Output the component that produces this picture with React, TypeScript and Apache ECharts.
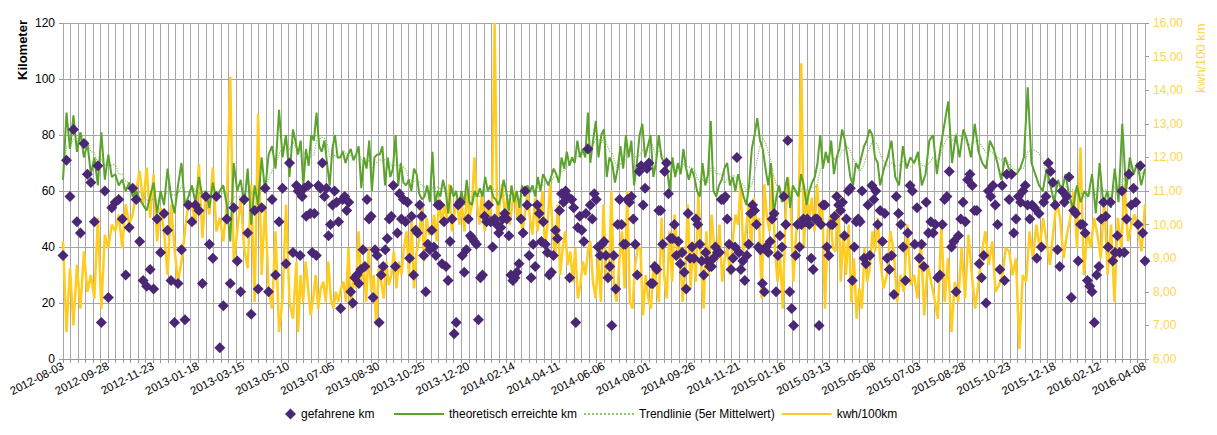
import React, { useEffect, useRef } from "react";
import * as echarts from "echarts";

// Day ranges (days since 2012-08-03) covered by each stretch of readings
const segmentDays = [
  [0, 290],
  [292, 652],
  [655, 1012],
  [1015, 1344],
];

// gefahrene km
const km1 = [37,71,58,82,49,45,77,66,63,49,69,13,60,22,54,56,57,50,30,47,61,57,42,28,26,32,25,50,38,52,46,28,13,27,39,14,55,49,55,53,27,58,41,36,58,4,19,50,27,54,35,24,57,45,16,53,25,54,61,24,57,30,49,61,34,70,38,62];
const km2 = [60,37,58,61,51,62,52,38,52,37,62,61,70,58,61,44,48,55,60,56,49,18,57,58,53,56,24,20,29,30,27,32,39,33,57,50,51,22,39,37,13,30,33,39,43,50,51,62,33,45,59,50,57,49,56,36,51,30,46,45,55,51,37,24,41,39,46,40,37,55,55,34,49,33,28,42,50,9,13,55,56,37,31,39,50,44,43,42,41,14,29,30,51,49,55,49,40,50,48,45,47,50,52,50,44,30,28,29,31,34,50,45,60,55,37,29,41,33,55,52,42,49,41,38,30,31,37,46,43,53,59,56,60,58,29,57,54,13,47,51,46,42,52,75];
const km3 = [55,50,59,57,40,37,41,42,37,29,33,12,37,25,48,57,48,41,41,57,56,58,50,41,30,67,69,55,61,68,70,27,27,33,32,53,53,41,67,70,59,43,43,48,37,42,34,38,31,25,52,36,40,36,50,48,41,35,30,38,35,33,33,36,40,38,38,57,57,58,50,41,32,36,40,72,38,32,35,28,37,41,52,55,53,48,40,39,27,24,40,38,42,50,52,24,37,44,40,58,48,78,24,18,12,37,48,40,48,50,49,50,48,36,32,50,50,12,48,55,55,40,37,48,48,51,58,55,53,56,44,50,60,61,28,40,49,50,49,60,36,34,55,37,62,57,60,48];
const km4 = [53,42,52,36,32,37,23,58,52,48,40,28,45,62,60,41,54,36,41,33,56,45,49,45,48,29,30,48,57,58,67,40,42,24,44,50,56,49,64,66,62,53,53,34,29,37,20,60,58,62,55,48,32,62,28,66,57,66,45,50,58,56,60,62,55,50,55,54,36,52,40,56,58,70,67,63,55,39,33,60,56,58,65,22,53,52,35,48,48,45,28,26,24,13,30,33,50,56,51,40,56,35,38,44,38,60,38,50,66,55,61,56,48,69,45,35];

// theoretisch erreichte km
const th1 = [64,88,75,87,74,81,72,77,66,72,62,81,64,73,65,66,62,64,60,63,58,60,57,55,53,58,63,52,60,55,68,58,52,62,70,55,58,62,56,65,58,60,54,63,57,60,62,55,42,70,60,64,55,68,48,62,55,72,60,73,76,68,89,72,80,65,82,76];
const th2 = [73,78,62,75,69,80,78,88,76,74,78,70,62,75,80,72,72,74,70,73,75,71,73,76,61,72,68,78,60,72,73,73,76,62,72,65,68,80,62,70,63,62,64,60,68,66,59,57,58,62,56,74,55,60,58,64,60,52,62,58,60,54,60,55,64,56,55,60,58,61,58,65,60,62,58,57,55,58,64,60,53,62,56,60,54,62,58,62,60,62,58,65,60,66,64,62,65,68,66,63,72,68,74,69,72,70,78,72,75,72,88];
const th3 = [70,78,85,72,80,82,65,72,70,63,68,76,68,80,72,78,62,70,80,84,72,76,80,65,70,80,72,70,68,60,72,65,70,66,75,68,64,68,65,60,58,70,62,66,85,60,58,62,64,68,70,62,65,60,66,62,58,55,62,75,80,86,78,75,68,62,70,52,58,62,56,60,65,54,62,60,58,66,62,55,60,63,65,70,80,68,74,70,78,66,72,75,82,78,72,65,62,70,68,72,76,78,82,80,72,70];
const th4 = [62,68,72,78,65,62,76,68,72,70,74,62,66,78,80,66,76,84,92,70,80,72,82,78,72,84,74,70,68,78,75,70,64,72,68,67,66,68,72,97,70,66,62,60,68,62,56,64,60,66,58,54,62,56,60,58,66,52,70,55,60,54,68,56,84,60,72,66,70,62,68];

// kwh/100km
const kw1 = [9.5,6.8,8.7,7.0,8.8,7.5,9.2,8.0,8.5,7.8,10.2,7.5,9.7,9.3,10.0,9.8,10.3,9.3,10.6,10.0,10.3,11.0,11.6,10.6,11.7,10.2,11.5,9.5,10.5,9.8,8.5,10.6,9.3,8.3,8.9,9.8,10.7,10.6,10.0,11.8,9.6,11.0,10.3,11.7,9.8,10.2,9.5,10.6,14.4,8.9,9.8,10.8,9.3,8.7,11.2,7.7,13.3,8.5,10.6,8.1,7.5,9.8,6.8,7.8,10.6,7.7,7.2,8.9];
const kw2 = [6.8,8.5,7.7,8.9,8.1,7.3,7.8,8.5,7.5,8.1,8.3,7.7,8.9,7.8,7.5,8.0,7.7,8.1,8.3,7.7,9.3,7.5,8.5,8.1,9.8,8.3,8.9,7.7,9.3,8.0,8.5,7.0,8.7,8.3,7.8,8.9,8.2,8.5,9.2,8.1,8.9,8.5,9.3,9.8,8.5,10.2,8.1,9.2,9.5,10.6,8.9,10.2,9.7,9.8,10.3,9.5,10.8,10.0,10.6,10.2,11.2,9.8,10.3,10.8,10.0,10.6,9.8,11.0,10.2,10.6,12.0,10.6,10.0,11.0,9.8,10.6,10.2,10.8,16.0,10.2,10.6,11.2,10.3,10.8,10.0,10.6,11.0,10.2,10.6,9.8,10.3,11.0,10.2,9.7,10.8,9.8,10.3,11.0,9.3,10.0,11.2,9.8,9.0,10.6,8.5,9.3,9.8,8.8,9.2,8.3,9.3,7.8,8.2,8.9,8.5,9.2];
const kw3 = [9.5,8.3,7.8,9.0,7.7,10.6,8.5,8.3,11.0,8.1,7.7,8.9,9.8,8.1,11.0,7.7,7.5,8.8,9.3,9.3,7.3,8.5,7.8,7.5,8.9,8.3,7.7,10.2,8.5,7.8,9.8,8.3,10.3,9.2,9.3,7.7,8.7,10.6,8.1,9.5,8.3,11.0,8.9,7.5,9.8,8.5,10.3,9.3,8.9,10.0,8.3,9.0,9.3,8.5,9.5,10.3,10.0,11.2,9.2,9.8,10.6,9.3,10.8,10.0,10.2,7.8,11.2,10.2,9.8,11.5,9.3,8.3,9.0,7.5,10.2,11.4,10.6,8.3,9.7,10.3,14.8,9.3,11.0,10.2,10.8,9.8,11.2,10.2,10.6,7.5,9.8,10.3,9.3,9.2,11.0,8.3,9.8,8.5,10.0,7.7,9.0,7.2,8.1,7.5,9.3,8.3,8.7,9.8,9.2,10.2];
const kw4 = [9.0,8.1,8.5,9.8,9.2,7.7,8.5,8.0,10.0,8.2,8.5,7.8,9.5,7.3,8.8,8.3,7.8,7.2,10.0,7.7,9.0,6.8,8.3,7.7,9.3,7.8,9.7,8.5,7.5,8.3,9.2,9.8,8.8,9.5,8.0,8.2,8.5,9.3,9.2,8.5,9.0,6.3,8.5,8.3,9.8,9.0,10.0,9.3,10.2,9.5,8.8,9.8,10.7,10.2,9.0,9.7,10.2,11.0,9.3,12.3,8.5,9.8,9.3,10.2,9.7,9.0,10.8,8.5,10.0,7.7,10.2,9.3,11.2,9.5,10.0,10.3,9.8,9.2,10.6];

const START = Date.UTC(2012, 7, 3);
const fmtDay = (d: number) => {
  const t = new Date(START + Math.round(d) * 86400000);
  const p = (n: number) => String(n).padStart(2, "0");
  return `${t.getUTCFullYear()}-${p(t.getUTCMonth() + 1)}-${p(t.getUTCDate())}`;
};

function place(parts: number[][]) {
  const out: number[][] = [];
  parts.forEach((vals, s) => {
    const [a, b] = segmentDays[s];
    vals.forEach((v, i) => out.push([a + (i * (b - a)) / (vals.length - 1), v]));
  });
  return out;
}

const PURPLE = "#4A2775";
const GREEN = "#5BA32B";
const LGREEN = "#8CC46A";
const YELLOW = "#FFCC22";

export default function App() {
  const ref = useRef<HTMLDivElement>(null);
  useEffect(() => {
    const chart = echarts.init(ref.current!, null, { renderer: "svg" });
    const kmData = place([km1, km2, km3, km4]);
    const thData = place([th1, th2, th3, th4]);
    const kwData = place([kw1, kw2, kw3, kw4]);
    const trend = thData.map((p, i) => {
      const w = thData.slice(Math.max(0, i - 4), i + 1);
      return [p[0], w.reduce((s, q) => s + q[1], 0) / w.length];
    });
    const font = "Liberation Sans";
    const legendText = { fontSize: 12, color: "#000", fontFamily: font };
    const noSym = { opacity: 0 };
    chart.setOption({
      animation: false,
      textStyle: { fontFamily: font },
      grid: { left: 55, right: 64, top: 15, bottom: 68, outerBoundsMode: "none", containLabel: false },
      legend: [
        {
          left: 272,
          bottom: 2,
          itemWidth: 11,
          itemHeight: 11,
          textStyle: legendText,
          data: [{ name: "gefahrene km", icon: "diamond", itemStyle: { opacity: 1 } }],
        },
        {
          left: 380,
          bottom: 2,
          itemWidth: 50,
          itemHeight: 10,
          itemGap: 6,
          textStyle: legendText,
          data: [
            { name: "theoretisch erreichte km", itemStyle: noSym },
            { name: "Trendlinie (5er Mittelwert)", itemStyle: noSym },
            { name: "kwh/100km", itemStyle: noSym },
          ],
        },
      ],
      graphic: [
        { type: "text", x: 14, y: 42, rotation: Math.PI / 2, style: { text: "Kilometer", fill: "#000", font: `bold 13px ${font}`, align: "center", verticalAlign: "middle" } },
        { type: "text", x: 1192, y: 50, rotation: Math.PI / 2, style: { text: "kwh/100 km", fill: "#FFD54A", font: `13px ${font}`, align: "center", verticalAlign: "middle" } },
      ],
      xAxis: {
        type: "value",
        min: 0,
        max: 1344,
        interval: 56,
        axisLine: { show: true, lineStyle: { color: "#999" } },
        axisTick: { show: true, length: 4, lineStyle: { color: "#999" } },
        minorTick: { show: true, splitNumber: 6, length: 4, lineStyle: { color: "#999" } },
        splitLine: { show: true, lineStyle: { color: "#a6a6a6", width: 1 } },
        minorSplitLine: { show: true, lineStyle: { color: "#a6a6a6", width: 1 } },
        axisLabel: {
          rotate: 27,
          fontSize: 11.5,
          color: "#000",
          margin: 6,
          formatter: (v: number) => fmtDay(v),
        },
      },
      yAxis: [
        {
          type: "value",
          min: 0,
          max: 120,
          interval: 20,
          axisLine: { show: false },
          axisTick: { show: true, length: 4, lineStyle: { color: "#999" } },
          splitLine: { lineStyle: { color: "#a6a6a6" } },
          axisLabel: { fontSize: 12, color: "#000" },
        },
        {
          type: "value",
          min: 6,
          max: 16,
          interval: 1,
          axisLine: { show: false },
          axisTick: { show: true, length: 4, lineStyle: { color: "#999" } },
          splitLine: { show: false },
          axisLabel: { fontSize: 12, color: "#FFD54A", formatter: (v: number) => v.toFixed(2).replace(".", ",") },
        },
      ],
      series: [
        {
          name: "kwh/100km",
          type: "line",
          yAxisIndex: 1,
          data: kwData,
          symbol: "none",
          lineStyle: { color: YELLOW, width: 2.5 },
          itemStyle: { color: YELLOW },
          z: 1,
        },
        {
          name: "Trendlinie (5er Mittelwert)",
          type: "line",
          data: trend,
          symbol: "none",
          lineStyle: { color: LGREEN, width: 1.2, type: "dotted" },
          itemStyle: { color: LGREEN },
          z: 2,
        },
        {
          name: "theoretisch erreichte km",
          type: "line",
          data: thData,
          symbol: "none",
          lineStyle: { color: GREEN, width: 2 },
          itemStyle: { color: GREEN },
          z: 3,
        },
        {
          name: "gefahrene km",
          type: "scatter",
          data: kmData,
          symbol: "diamond",
          symbolSize: 11,
          itemStyle: { color: PURPLE, opacity: 1 },
          z: 4,
        },
      ],
    });
    return () => chart.dispose();
  }, []);
  return <div ref={ref} style={{ width: 1201, height: 419 }} />;
}
